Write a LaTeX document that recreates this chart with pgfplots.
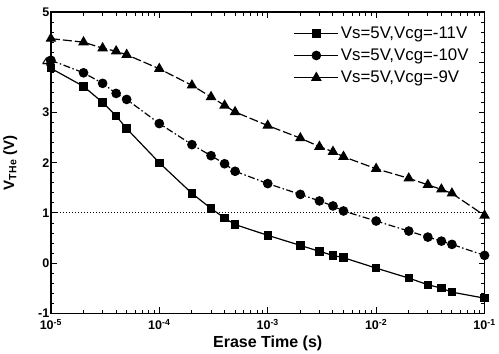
\documentclass[border=0pt]{standalone}
\usepackage{fontspec}
\setmainfont{Liberation Sans}
\usepackage{pgfplots}
\pgfplotsset{compat=1.18}
\begin{document}
\begin{tikzpicture}
\begin{axis}[
  xmode=log, xmin=1e-5, xmax=1e-1, ymin=-1, ymax=5,
  scale only axis, width=433pt, height=301pt,
  xtick={1e-5,1e-4,1e-3,1e-2,1e-1},
  xticklabels={\textbf{10\textsuperscript{-5}},\textbf{10\textsuperscript{-4}},\textbf{10\textsuperscript{-3}},\textbf{10\textsuperscript{-2}},\textbf{10\textsuperscript{-1}}},
  ytick={-1,0,1,2,3,4,5},
  minor y tick num=4,
  /pgf/number format/assume math mode=true,
  ticklabel style={font=\bfseries\fontsize{12.5}{13}\selectfont},
  yticklabel style={xshift=2pt},
  xticklabel style={yshift=-2pt},
  tick align=inside,
  major tick length=6pt, minor tick length=3.5pt,
  every tick/.style={black, line width=1pt},
  axis line style={line width=1.3pt},
  xlabel={\textbf{Erase Time (s)}},
  ylabel={V\textsubscript{THe} (V)},
  xlabel style={font=\fontsize{16}{18}\selectfont, yshift=1pt},
  ylabel style={font=\bfseries\fontsize{15}{17}\selectfont, yshift=14pt},
  legend style={draw=none, fill=none, at={(0.975,0.965)}, anchor=north east,
    font=\fontsize{16.8}{18}\selectfont, row sep=5pt},
  legend cell align=left,
  legend image code/.code={\draw[mark repeat=2,mark phase=2] plot coordinates {(0pt,0pt) (22pt,0pt) (44pt,0pt)};},
  legend image post style={solid},
]
\addplot[black, line width=1.2pt, mark=square*, mark size=3.6pt, mark options={solid}] coordinates {
(1e-5,3.88) (2e-5,3.52) (3e-5,3.20) (4e-5,2.93) (5e-5,2.68) (1e-4,2.00)
(2e-4,1.39) (3e-4,1.09) (4e-4,0.90) (5e-4,0.77) (1e-3,0.555)
(2e-3,0.355) (3e-3,0.236) (4e-3,0.156) (5e-3,0.11) (1e-2,-0.097)
(2e-2,-0.296) (3e-2,-0.428) (4e-2,-0.496) (5e-2,-0.576) (1e-1,-0.695)};
\addlegendentry{Vs=5V,Vcg=-11V}
\addplot[black, line width=1.2pt, dash pattern=on 7pt off 2.5pt on 1.5pt off 2.5pt, mark=*, mark size=4.2pt, mark options={solid}] coordinates {
(1e-5,4.04) (2e-5,3.79) (3e-5,3.58) (4e-5,3.38) (5e-5,3.26) (1e-4,2.78)
(2e-4,2.36) (3e-4,2.14) (4e-4,1.98) (5e-4,1.83) (1e-3,1.585)
(2e-3,1.37) (3e-3,1.24) (4e-3,1.14) (5e-3,1.04) (1e-2,0.84)
(2e-2,0.64) (3e-2,0.52) (4e-2,0.44) (5e-2,0.375) (1e-1,0.156)};
\addlegendentry{Vs=5V,Vcg=-10V}
\addplot[black, line width=1.2pt, dash pattern=on 9pt off 3pt, mark=triangle*, mark size=5pt, mark options={solid}] coordinates {
(1e-5,4.47) (2e-5,4.40) (3e-5,4.28) (4e-5,4.22) (5e-5,4.15) (1e-4,3.87)
(2e-4,3.54) (3e-4,3.31) (4e-4,3.14) (5e-4,3.01) (1e-3,2.74)
(2e-3,2.49) (3e-3,2.32) (4e-3,2.22) (5e-3,2.12) (1e-2,1.88)
(2e-2,1.69) (3e-2,1.56) (4e-2,1.47) (5e-2,1.39) (1e-1,0.95)};
\addlegendentry{Vs=5V,Vcg=-9V}
\addplot[black, line width=1pt, dotted, forget plot] coordinates {(1e-5,1) (1e-1,1)};
\end{axis}
\path (current axis.north) ++(0,12pt);
\end{tikzpicture}
\end{document}
